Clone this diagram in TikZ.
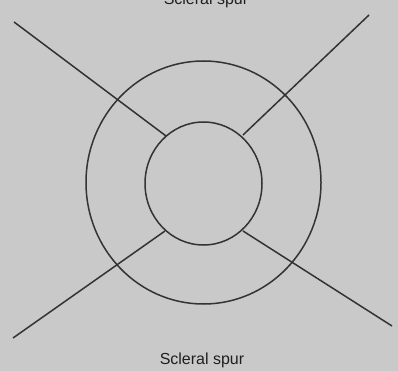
\documentclass[tikz,border=0pt]{standalone}
\usepackage{fontspec}
\setmainfont{Liberation Sans}
\begin{document}
\begin{tikzpicture}[x=1pt,y=-1pt,
  ln/.style={draw=black!80, line width=1.5pt},
  lbl/.style={font=\fontsize{16}{18}\selectfont, text=black!88, inner sep=0pt, anchor=base}]
\fill[black!21] (0,0) rectangle (398,371);
\useasboundingbox (0,0) rectangle (398,371);
\draw[ln] (203.5,182.5) ellipse [x radius=117.5, y radius=121.5];
\draw[ln] (203.5,183.5) ellipse [x radius=58.5, y radius=61.5];
\coordinate (tl) at (14,22);   \coordinate (tli) at (166,136);
\coordinate (tr) at (369,15);  \coordinate (tri) at (243,135);
\coordinate (bl) at (13,338);  \coordinate (bli) at (165,231);
\coordinate (br) at (392,326); \coordinate (bri) at (243,231);
\draw[ln] (tl) -- (tli);
\draw[ln] (tr) -- (tri);
\draw[ln] (bl) -- (bli);
\draw[ln] (br) -- (bri);
\node[lbl] (top) at (206,5) {Scleral spur};
\node[lbl] (bot) at (202,364) {Scleral spur};
\end{tikzpicture}
\end{document}
